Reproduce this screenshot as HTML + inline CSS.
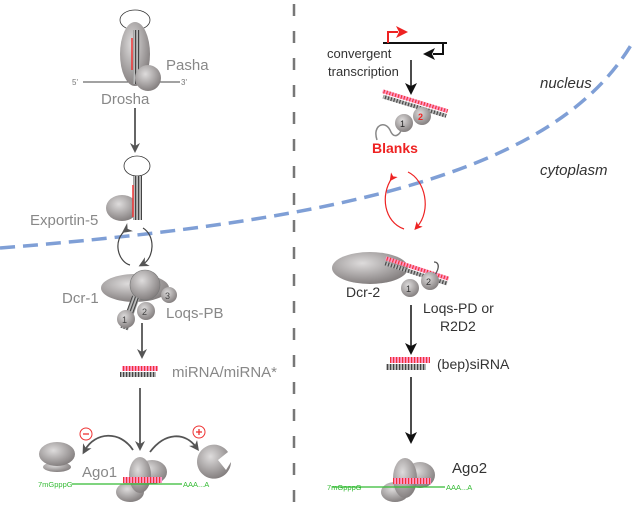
<!DOCTYPE html>
<html><head><meta charset="utf-8"><style>
html,body{margin:0;padding:0;background:#fff;width:634px;height:514px;overflow:hidden}
text{font-family:"Liberation Sans",Arial,sans-serif}
</style></head><body>
<svg width="634" height="514" viewBox="0 0 634 514" xmlns="http://www.w3.org/2000/svg">
<defs>
<radialGradient id="g" cx="40%" cy="35%" r="70%"><stop offset="0" stop-color="#dedcdc"/><stop offset="1" stop-color="#7f7a7a"/></radialGradient>
<pattern id="hatch" width="3" height="4" patternUnits="userSpaceOnUse"><rect width="3" height="4" fill="#bbb"/><rect width="1.2" height="4" fill="#444"/></pattern>
<pattern id="hatchr" width="3" height="4" patternUnits="userSpaceOnUse"><rect width="3" height="4" fill="#f9c"/><rect width="1.2" height="4" fill="#e33"/></pattern>
<marker id="ag" markerWidth="10" markerHeight="10" refX="5" refY="5" orient="auto" markerUnits="userSpaceOnUse"><path d="M0,0 L10,5 L0,10 L3,5z" fill="#555"/></marker>
<marker id="ak" markerWidth="12" markerHeight="12" refX="6" refY="6" orient="auto" markerUnits="userSpaceOnUse"><path d="M0,0 L12,6 L0,12 L3,6z" fill="#111"/></marker>
<marker id="ar" markerWidth="8" markerHeight="8" refX="4" refY="4" orient="auto" markerUnits="userSpaceOnUse"><path d="M0,0 L8,4 L0,8 L2,4z" fill="#e22"/></marker>
</defs>

<line x1="294" y1="4" x2="294" y2="514" stroke="#777" stroke-width="2.5" stroke-dasharray="12,15"/>
<path d="M0,248 C350,220 560,170 634,40" fill="none" stroke="#7f9fd6" stroke-width="3.5" stroke-dasharray="15,8"/>

<!-- Drosha -->
<ellipse cx="135" cy="20" rx="15" ry="10" fill="#fff" stroke="#333" stroke-width="0.8"/>
<line x1="83" y1="82" x2="180" y2="82" stroke="#444" stroke-width="1"/>
<ellipse cx="135" cy="54" rx="15" ry="32" fill="url(#g)"/>
<rect x="133" y="30" width="7" height="54" fill="url(#hatch)"/>
<line x1="132" y1="38" x2="132" y2="70" stroke="#e33" stroke-width="1.5"/>
<circle cx="148" cy="78" r="13" fill="url(#g)"/>
<text x="72" y="85" font-size="8" fill="#777">5'</text>
<text x="181" y="85" font-size="8" fill="#777">3'</text>
<text x="166" y="70" font-size="15" fill="#888">Pasha</text>
<text x="101" y="104" font-size="15" fill="#888">Drosha</text>
<line x1="135" y1="108" x2="135" y2="148" stroke="#555" stroke-width="1.8" marker-end="url(#ag)"/>

<!-- Exportin -->
<ellipse cx="137" cy="166" rx="13" ry="10" fill="#fff" stroke="#333" stroke-width="0.8"/>
<ellipse cx="122" cy="208" rx="16" ry="13" fill="url(#g)"/>
<rect x="133" y="176" width="9" height="44" fill="url(#hatch)"/>
<line x1="133" y1="185" x2="133" y2="217" stroke="#e33" stroke-width="1.5"/>
<text x="30" y="225" font-size="15" fill="#888">Exportin-5</text>
<path d="M126,230 C112,240 118,262 130,265" fill="none" stroke="#444" stroke-width="1.2" marker-start="url(#ag)"/>
<path d="M143,228 C156,236 154,258 143,264" fill="none" stroke="#444" stroke-width="1.2" marker-end="url(#ag)"/>

<!-- Dcr-1 -->
<ellipse cx="135" cy="288" rx="34" ry="14" fill="url(#g)"/>
<circle cx="145" cy="285" r="15" fill="url(#g)" stroke="#777" stroke-width="0.6"/>
<rect x="126" y="296" width="8" height="34" fill="url(#hatch)" transform="rotate(20 130 313)"/>
<circle cx="126" cy="319" r="9" fill="url(#g)"/>
<circle cx="146" cy="311" r="9" fill="url(#g)"/>
<circle cx="169" cy="295" r="8" fill="url(#g)"/>
<text x="122" y="323" font-size="9" fill="#444">1</text>
<text x="142" y="315" font-size="9" fill="#444">2</text>
<text x="165" y="299" font-size="9" fill="#444">3</text>
<text x="62" y="303" font-size="15" fill="#888">Dcr-1</text>
<text x="166" y="318" font-size="15" fill="#888">Loqs-PB</text>
<line x1="142" y1="323" x2="142" y2="354" stroke="#555" stroke-width="1.8" marker-end="url(#ag)"/>

<rect x="122" y="366" width="36" height="5" fill="url(#hatchr)"/>
<rect x="120" y="372" width="36" height="5" fill="url(#hatch)"/>
<text x="172" y="377" font-size="15" fill="#888">miRNA/miRNA*</text>
<line x1="140" y1="388" x2="140" y2="446" stroke="#555" stroke-width="1.8" marker-end="url(#ag)"/>

<!-- Ago1 -->
<ellipse cx="152" cy="472" rx="15" ry="12" fill="url(#g)"/>
<ellipse cx="130" cy="492" rx="14" ry="10" fill="url(#g)"/>
<ellipse cx="140" cy="475" rx="11" ry="18" fill="url(#g)"/>
<line x1="72" y1="484" x2="182" y2="484" stroke="#3b3" stroke-width="1.2"/>
<rect x="123" y="477" width="39" height="6" fill="url(#hatchr)"/>
<text x="38" y="487" font-size="7.5" fill="#3b3">7mGpppG</text>
<text x="183" y="487" font-size="7.5" fill="#3b3">AAA...A</text>
<text x="82" y="477" font-size="15" fill="#888">Ago1</text>
<ellipse cx="57" cy="467" rx="14" ry="5" fill="url(#g)"/>
<ellipse cx="57" cy="454" rx="18" ry="12" fill="url(#g)"/>
<path d="M231,462 A17,17 0 1,1 228,452 L218,460 L226,470 Z" fill="url(#g)"/>
<path d="M133,450 C120,430 95,432 85,450" fill="none" stroke="#555" stroke-width="1.8" marker-end="url(#ag)"/>
<path d="M150,452 C165,432 185,432 196,447" fill="none" stroke="#555" stroke-width="1.8" marker-end="url(#ag)"/>
<circle cx="86" cy="434" r="6" fill="#fff" stroke="#e33"/><line x1="83" y1="434" x2="89" y2="434" stroke="#e33" stroke-width="1.3"/>
<circle cx="199" cy="432" r="6" fill="#fff" stroke="#e33"/><line x1="196" y1="432" x2="202" y2="432" stroke="#e33" stroke-width="1.3"/><line x1="199" y1="429" x2="199" y2="435" stroke="#e33" stroke-width="1.3"/>

<!-- right: gene -->
<line x1="383" y1="43" x2="447" y2="43" stroke="#111" stroke-width="2"/>
<path d="M388,43 V32 H398" fill="none" stroke="#e22" stroke-width="2"/>
<path d="M396,26 L408,32 L396,38 L399,32z" fill="#e22"/>
<path d="M443,43 V54 H433" fill="none" stroke="#111" stroke-width="2"/>
<path d="M435,48 L423,54 L435,60 L432,54z" fill="#111"/>
<text x="327" y="58" font-size="13" fill="#333">convergent</text>
<text x="328" y="76" font-size="13" fill="#333">transcription</text>
<line x1="411" y1="60" x2="411" y2="89" stroke="#111" stroke-width="1.5" marker-end="url(#ak)"/>
<g transform="rotate(17 414 105)">
<rect x="380" y="99" width="68" height="4" fill="url(#hatchr)"/>
<rect x="382" y="104" width="66" height="4" fill="url(#hatch)"/>
</g>
<path d="M377,140 C372,125 385,120 390,130 C394,140 400,135 402,128" fill="none" stroke="#888" stroke-width="1.5"/>
<circle cx="404" cy="123" r="9" fill="url(#g)"/>
<circle cx="422" cy="116" r="9" fill="url(#g)"/>
<text x="400" y="127" font-size="9" fill="#222">1</text>
<text x="418" y="120" font-size="9" fill="#e22" font-weight="bold">2</text>
<text x="372" y="153" font-size="14" fill="#e22" font-weight="bold">Blanks</text>
<path d="M392,178 C380,195 384,222 404,229" fill="none" stroke="#e22" stroke-width="1.2" marker-start="url(#ar)"/>
<path d="M408,172 C425,180 432,210 417,227" fill="none" stroke="#e22" stroke-width="1.2" marker-end="url(#ar)"/>
<text x="540" y="88" font-size="15" font-style="italic" fill="#333">nucleus</text>
<text x="540" y="175" font-size="15" font-style="italic" fill="#333">cytoplasm</text>

<!-- Dcr-2 -->
<ellipse cx="370" cy="268" rx="38" ry="16" fill="url(#g)"/>
<g transform="rotate(18 415 272)">
<rect x="383" y="266" width="66" height="4" fill="url(#hatchr)"/>
<rect x="383" y="271" width="66" height="4" fill="url(#hatch)"/>
</g>
<path d="M432,278 C440,270 440,262 434,262" fill="none" stroke="#555" stroke-width="1.3"/>
<circle cx="410" cy="288" r="9" fill="url(#g)"/>
<circle cx="430" cy="281" r="9" fill="url(#g)"/>
<text x="406" y="292" font-size="9" fill="#333">1</text>
<text x="426" y="285" font-size="9" fill="#333">2</text>
<text x="346" y="297" font-size="14" fill="#333">Dcr-2</text>
<text x="423" y="313" font-size="14" fill="#333">Loqs-PD or</text>
<text x="440" y="331" font-size="14" fill="#333">R2D2</text>
<line x1="411" y1="305" x2="411" y2="349" stroke="#111" stroke-width="1.5" marker-end="url(#ak)"/>
<rect x="390" y="357" width="40" height="6" fill="url(#hatchr)"/>
<rect x="386" y="364" width="40" height="6" fill="url(#hatch)"/>
<text x="437" y="369" font-size="14" fill="#333">(bep)siRNA</text>
<line x1="411" y1="377" x2="411" y2="438" stroke="#111" stroke-width="1.5" marker-end="url(#ak)"/>

<!-- Ago2 -->
<ellipse cx="420" cy="475" rx="15" ry="13" fill="url(#g)"/>
<ellipse cx="395" cy="492" rx="14" ry="10" fill="url(#g)"/>
<ellipse cx="405" cy="478" rx="12" ry="20" fill="url(#g)"/>
<line x1="332" y1="487" x2="445" y2="487" stroke="#3b3" stroke-width="1.2"/>
<rect x="393" y="478" width="38" height="6" fill="url(#hatchr)"/>
<text x="327" y="490" font-size="7.5" fill="#3b3">7mGpppG</text>
<text x="446" y="490" font-size="7.5" fill="#3b3">AAA...A</text>
<text x="452" y="473" font-size="15" fill="#333">Ago2</text>
</svg>
</body></html>
